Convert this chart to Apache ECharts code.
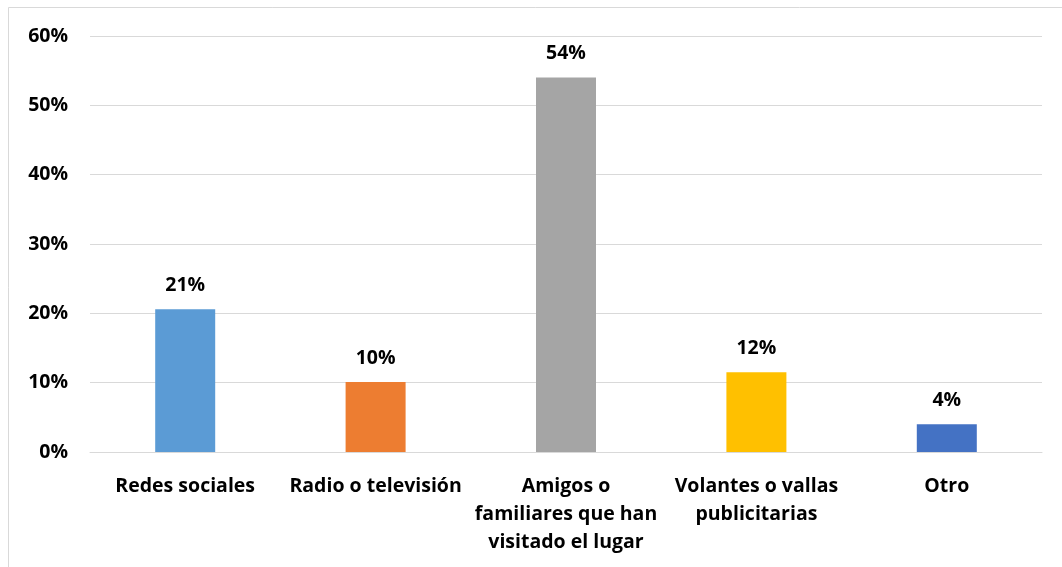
<!DOCTYPE html>
<html>
<head>
<meta charset="utf-8">
<script src="https://cdn.jsdelivr.net/npm/echarts@6/dist/echarts.min.js"></script>
<style>
  html, body { margin: 0; padding: 0; background: #fff; }
  #chart { width: 1062px; height: 567px; }
</style>
</head>
<body>
<div id="chart"></div>
<script>
// categorias y valores (fraccion)
var categories = ['Redes sociales', 'Radio o televisión', 'Amigos o\nfamiliares que han\nvisitado el lugar', 'Volantes o vallas\npublicitarias', 'Otro']
var values = [0.206, 0.101, 0.54, 0.115, 0.04]
var barColors = ['#5b9bd5', '#ed7d31', '#a5a5a5', '#ffc000', '#4472c4']

var chart = echarts.init(document.getElementById('chart'))
chart.setOption({
  backgroundColor: '#fff',
  textStyle: { fontFamily: 'Open Sans' },
  graphic: [{
    type: 'rect',
    shape: { x: 8.5, y: 7.5, width: 1200, height: 700 },
    style: { fill: 'none', stroke: '#d9d9d9', lineWidth: 1 },
    silent: true
  }],
  grid: { left: 90, right: 20, top: 36, bottom: 115 },
  xAxis: {
    type: 'category',
    data: categories,
    axisTick: { show: false },
    axisLine: { lineStyle: { color: '#d9d9d9' } },
    axisLabel: {
      color: '#000',
      fontWeight: 'bold',
      fontSize: 19.5,
      lineHeight: 28,
      margin: 20,
      interval: 0
    }
  },
  yAxis: {
    type: 'value',
    min: 0,
    max: 0.6,
    interval: 0.1,
    axisLine: { show: false },
    axisTick: { show: false },
    splitLine: { lineStyle: { color: '#d9d9d9' } },
    axisLabel: {
      color: '#000',
      fontWeight: 'bold',
      fontSize: 19.5,
      margin: 22,
      formatter: function(v) { return Math.round(v * 100) + '%' }
    }
  },
  series: [{
    type: 'bar',
    barWidth: 60,
    data: values.map(function(v, i) {
      return { value: v, itemStyle: { color: barColors[i] } }
    }),
    label: {
      show: true,
      position: 'top',
      distance: 14,
      color: '#000',
      fontWeight: 'bold',
      fontSize: 19.5,
      formatter: function(p) { return Math.round(p.value * 100) + '%' }
    }
  }]
})
</script>
</body>
</html>
